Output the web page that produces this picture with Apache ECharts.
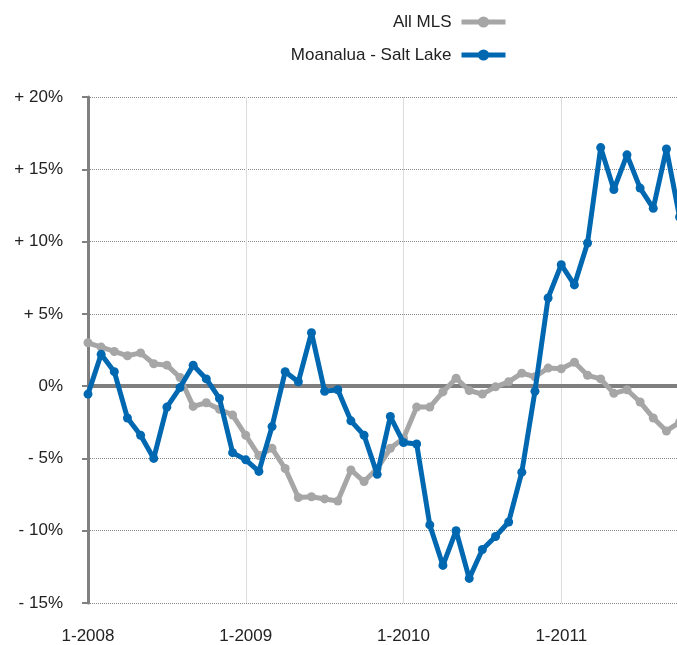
<!DOCTYPE html>
<html>
<head>
<meta charset="utf-8">
<script src="https://cdn.jsdelivr.net/npm/echarts@6/dist/echarts.min.js"></script>
<style>html,body{margin:0;padding:0;background:#fff}#c{width:677px;height:645px}</style>
</head>
<body>
<div id="c"></div>
<script>
// month index 0 = 1-2008
var months = [];
for (var m = 0; m < 46; m++) months.push(m);
var allMLS = [3.0,2.7,2.4,2.1,2.3,1.55,1.45,0.6,-1.4,-1.15,-1.6,-2.0,-3.4,-4.8,-4.3,-5.7,-7.7,-7.65,-7.8,-7.95,-5.8,-6.6,-5.7,-4.3,-3.6,-1.45,-1.45,-0.4,0.55,-0.3,-0.55,-0.05,0.3,0.9,0.65,1.25,1.2,1.65,0.75,0.5,-0.5,-0.25,-1.1,-2.2,-3.1,-2.5];
var moanalua = [-0.55,2.2,1.0,-2.2,-3.4,-5.0,-1.45,-0.1,1.45,0.5,-0.85,-4.6,-5.1,-5.9,-2.8,1.0,0.3,3.7,-0.35,-0.25,-2.4,-3.4,-6.1,-2.1,-3.9,-4.0,-9.6,-12.4,-10.0,-13.3,-11.3,-10.4,-9.4,-5.95,-0.35,6.1,8.4,7.0,9.9,16.5,13.6,16.0,13.7,12.3,16.4,11.7];
var yTickLabels = {"20":"+ 20%","15":"+ 15%","10":"+ 10%","5":"+ 5%","0":"0%","-5":"- 5%","-10":"- 10%","-15":"- 15%"};
var startYear = 2008;

function pairs(arr){ return arr.map(function(v,i){ return [months[i], v]; }); }

var chart = echarts.init(document.getElementById('c'));
chart.setOption({
  animation: false,
  textStyle: {fontFamily: 'Liberation Sans, Arial, sans-serif'},
  legend: {
    orient: 'vertical',
    right: 169,
    top: 12,
    padding: 0,
    align: 'right',
    itemWidth: 44,
    itemHeight: 14,
    itemGap: 13,
    lineStyle: {width: 5},
    textStyle: {fontSize: 17, color: '#222', lineHeight: 20, padding: [0, 5, 0, 0], fontFamily: 'Liberation Sans, Arial, sans-serif'},
    data: ['All MLS', 'Moanalua - Salt Lake']
  },
  grid: {left: 88, top: 97, width: 631, height: 506, containLabel: false, outerBoundsMode: 'none'},
  xAxis: {
    type: 'value', min: 0, max: 48, interval: 12,
    axisLine: {show: false},
    axisTick: {show: false},
    axisLabel: {
      margin: 25, fontSize: 17, color: '#222',
      formatter: function(v){ return '1-' + (startYear + v/12); }
    },
    splitLine: {show: true, lineStyle: {color: '#dcdcdc', width: 1, type: 'solid'}}
  },
  yAxis: {
    type: 'value', min: -15, max: 20, interval: 5,
    axisLine: {show: true, lineStyle: {color: '#808080', width: 3}},
    axisTick: {show: true, inside: false, length: 6, lineStyle: {color: '#808080', width: 2}},
    axisLabel: {
      margin: 25, fontSize: 17, color: '#222',
      formatter: function(v){ return yTickLabels[String(v)]; }
    },
    splitLine: {show: true, lineStyle: {color: '#8a8a8a', width: 1, type: [1, 1]}}
  },
  series: [
    {
      name: 'All MLS', type: 'line', data: pairs(allMLS),
      symbol: 'circle', symbolSize: 9,
      lineStyle: {color: '#a6a6a6', width: 5},
      itemStyle: {color: '#a6a6a6'},
      z: 3,
      markLine: {
        silent: true, symbol: 'none', z: 1,
        label: {show: false},
        lineStyle: {color: '#7f7f7f', width: 4, type: 'solid'},
        data: [{yAxis: 0}]
      }
    },
    {
      name: 'Moanalua - Salt Lake', type: 'line', data: pairs(moanalua),
      symbol: 'circle', symbolSize: 9,
      lineStyle: {color: '#0068b1', width: 5},
      itemStyle: {color: '#0068b1'},
      z: 4
    }
  ]
});
</script>
</body>
</html>
